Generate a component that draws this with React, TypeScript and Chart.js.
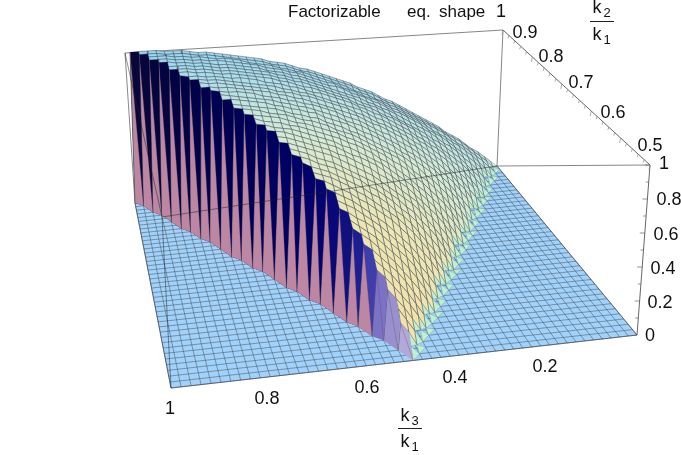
import React, { useEffect, useRef } from "react";
import Chart from "chart.js/auto";

// k3/k1 runs over 51 columns (1 at the left, 0 at the right), k2/k1 over 41 rows (1 at the back, 0.5 at the front).
const columnsK3 = 50;
const rowsK2 = 40;
// first column of each row holding a non-zero height zone
const rowFirstColumn = [0,1,2,2,3,4,4,5,5,6,7,7,8,9,9,10,10,11,12,12,13,14,14,15,15,16,17,17,18,19,19,20,20,21,22,22,23,24,24,25,25];
// surface height (percent) read along each k2 row, going up in k3 from rowFirstColumn
const surfaceHeights = [
[0,4,8,12,15,19,23,26,29,33,36,39,42,45,48,51,54,56,59,62,64,66,69,71,73,75,77,79,81,82,84,86,87,88,90,91,92,93,94,95,96,97,97,98,99,99,99,100,100,100,100],
[2,7,11,15,19,23,26,29,33,36,39,42,45,48,51,54,56,59,62,64,66,69,71,73,75,77,79,81,82,84,86,87,88,90,91,92,93,94,95,96,97,97,98,99,99,99,100,100,100],
[5,10,14,18,22,25,29,33,36,39,42,45,48,51,54,56,59,61,64,66,68,71,73,75,77,79,81,83,84,86,87,89,90,91,92,94,95,96,96,97,98,98,99,99,100,100,100],
[1,7,12,17,21,25,28,32,35,38,42,45,48,51,54,56,59,62,64,66,69,71,73,76,77,79,81,83,85,86,88,89,90,92,93,94,95,96,97,97,98,98,99,99,100,100,100],
[4,10,15,19,23,27,31,35,38,41,45,48,51,54,56,59,62,64,67,69,71,74,76,77,79,81,83,85,86,88,89,90,92,93,94,95,96,96,97,98,98,99,99,100,100],
[6,12,17,21,26,30,33,37,41,44,47,50,53,56,59,61,64,66,69,71,73,75,77,79,81,83,85,86,88,89,91,92,93,94,95,96,96,97,98,98,99,99,99],
[2,9,14,19,24,28,32,36,39,43,46,49,52,55,58,61,64,66,68,71,73,75,77,79,81,83,85,86,88,89,91,92,93,94,95,96,96,97,98,98,99,99,99],
[5,11,17,22,26,30,34,38,42,45,49,52,55,58,60,63,66,68,70,73,75,77,79,81,83,84,86,88,89,91,92,93,94,95,96,96,97,98,98,99,99],
[0,7,13,19,24,28,33,37,40,44,47,51,54,57,60,63,65,68,70,73,75,77,79,81,82,84,86,87,89,90,91,93,94,95,95,96,97,97,98,98,99],
[3,10,16,21,26,31,35,39,43,46,50,53,56,59,62,64,67,70,72,74,76,78,80,82,84,85,87,88,90,91,92,93,94,95,96,97,97,98,98],
[6,12,18,23,28,33,37,41,45,48,52,55,58,61,63,66,69,71,74,76,78,80,82,84,85,87,88,89,91,92,93,94,95,96,97,97,98],
[1,8,15,20,26,30,35,39,43,47,50,54,57,60,63,65,68,71,73,75,77,79,81,83,85,86,88,89,91,92,93,94,95,96,96,97,97],
[4,11,17,23,28,32,37,41,45,49,52,55,59,61,64,67,70,72,74,77,79,81,83,84,86,87,89,90,91,93,94,95,95,96,97],
[7,13,19,25,30,35,39,43,47,50,54,57,60,63,66,69,71,73,76,78,80,82,84,85,87,88,90,91,92,93,94,95,96],
[2,9,16,22,27,32,37,41,45,49,52,56,59,62,65,67,70,73,75,77,79,82,83,85,86,88,89,91,92,93,94,95,95],
[5,12,18,24,29,34,38,43,47,51,54,57,60,63,66,69,71,74,76,78,81,82,84,85,87,89,90,91,92,93,94],
[0,8,14,20,26,31,36,40,44,49,53,56,59,62,65,68,71,73,75,78,80,82,83,85,87,88,89,91,92,93,94],
[3,10,17,23,28,33,38,42,47,51,54,58,61,64,67,70,72,75,77,79,81,83,84,86,88,89,90,91,92],
[6,13,19,25,30,35,39,44,48,52,56,59,63,66,69,71,74,76,78,80,82,84,85,87,88,89,91],
[1,8,15,21,27,32,37,42,46,50,54,58,61,64,67,70,72,75,77,79,81,83,85,86,87,89,90],
[4,11,18,24,29,34,39,44,48,52,56,60,63,66,68,71,74,76,78,80,82,84,86,87,88],
[7,14,20,26,31,37,41,45,50,54,57,61,64,67,70,72,75,77,79,81,83,85,86],
[2,9,16,22,28,34,39,43,47,51,55,59,62,65,68,71,74,76,78,80,82,84,85],
[5,12,19,25,30,36,40,45,49,53,57,60,63,66,69,72,74,76,79,81,83],
[0,8,15,21,27,33,38,42,47,51,55,58,62,65,68,71,73,75,78,80,82],
[3,10,17,23,29,35,40,44,49,53,56,60,63,66,69,72,74,76,79],
[6,13,20,26,32,37,42,46,50,54,58,61,65,68,71,73,75],
[1,9,16,22,28,34,39,44,48,52,56,59,63,66,69,72,74],
[4,11,18,24,30,35,40,45,49,53,57,61,64,67,70],
[7,14,20,27,32,37,42,47,51,55,59,62,65],
[2,9,16,23,29,34,39,44,49,53,56,60,63],
[5,12,19,25,31,36,41,46,50,54,58],
[0,8,15,21,27,33,38,43,48,52,56],
[3,10,17,24,30,35,40,45,49],
[6,13,20,26,32,37,42],
[1,9,16,22,28,34,39],
[4,11,18,24,30],
[7,14,21],
[2,10,16],
[5],
[0],
];
// cliff colours, from the lowest column (k3 = 0.5) up to the tallest one (k3 = 1)
const cliffShades = ["#b3a9d8","#9a90cf","#7c72c5","#3f3cab","#1e1e94","#10107f","#080878","#040470","#02026a","#000066","#000062","#00005f","#00005c","#000059","#000056","#000053","#000050","#00004d","#01014a","#020247","#030344","#040441","#05053e","#06063c","#07073a"];
const surfaceStops = ["#90d6fa","#aee0ee","#d3ebd8","#eee6b4","#f4dfa8"];

const k3TickLabels = ["1","0.8","0.6","0.4","0.2"];
const k2TickLabels = ["0.9","0.8","0.7","0.6","0.5"];
const zTickLabels = ["1","0.8","0.6","0.4","0.2","0"];

// frame of the box, in page units: floor and z = 1 corners (back-left, back-right, front-right, front-left)
const floorCorners = [[135,203],[497,166],[637,335],[171,388]];
const topCorners = [[130,52],[503,30],[650,165],[161,215]];
const boxFrameCorner = [162,217];
const boxTopLeft = [125,53];
const k3AxisBow = 0.05;

type P = { x: number; y: number };

function homography(q: number[][]) {
  const [[x0,y0],[x1,y1],[x2,y2],[x3,y3]] = q;
  const dx1 = x1-x2, dx2 = x3-x2, sx = x0-x1+x2-x3;
  const dy1 = y1-y2, dy2 = y3-y2, sy = y0-y1+y2-y3;
  const den = dx1*dy2-dx2*dy1;
  const g = (sx*dy2-dx2*sy)/den, h = (dx1*sy-sx*dy1)/den;
  const a = x1-x0+g*x1, b = x3-x0+h*x3, d = y1-y0+g*y1, e = y3-y0+h*y3;
  return (u: number, v: number): P => {
    const w = g*u+h*v+1;
    return { x: (a*u+b*v+x0)/w, y: (d*u+e*v+y0)/w };
  };
}
const floorH = homography(floorCorners);
const topH = homography(topCorners);
const k3At = (i: number) => i/columnsK3;
const k2At = (n: number) => 1-n/(2*rowsK2);
function project(k3: number, k2: number, z: number): P {
  const raw = 1-k3, u = raw+k3AxisBow*raw*(1-raw), v = (1-k2)*2;
  const f = floorH(u,v), t = topH(u,v);
  return { x: f.x+(t.x-f.x)*z, y: f.y+(t.y-f.y)*z };
}
const lastColumn = (n: number) => rowFirstColumn[n]+surfaceHeights[n].length-1;
function heightAt(i: number, n: number) {
  const h = surfaceHeights[n][i-rowFirstColumn[n]];
  return h === undefined ? 0 : h/100;
}
const nodeAt = (i: number, n: number) => project(k3At(i), k2At(n), heightAt(i,n));
const hex = (s: string) => [1,3,5].map(p => parseInt(s.slice(p,p+2),16));
function surfaceColor(k3: number, k2: number) {
  const t = Math.min(0.999, Math.max(0, 1.6*(1-k2)+0.33*(1-k3)));
  const pos = t*(surfaceStops.length-1), a = Math.floor(pos), f = pos-a;
  const A = hex(surfaceStops[a]), B = hex(surfaceStops[a+1]);
  return `rgb(${A.map((v,c)=>Math.round(v+(B[c]-v)*f)).join(",")})`;
}

const FILL = (data: P[], backgroundColor: string, borderColor = "rgba(0,0,0,0)", borderWidth = 0) => ({
  data: [...data, data[0]], backgroundColor, borderColor, borderWidth, fill: "shape", showLine: true, pointRadius: 0, tension: 0, clip: false,
});
const LINE = (data: P[], borderColor: string, borderWidth: number) => ({
  data, borderColor, borderWidth, fill: false, showLine: true, pointRadius: 0, tension: 0, clip: false,
});
const pt = (c: number[]): P => ({ x: c[0], y: c[1] });

function buildDatasets() {
  const out: any[] = [];
  const frame = "#77797c", mesh = "rgba(62,66,72,0.62)";
  // box back
  out.push(LINE([pt(boxTopLeft), pt(topCorners[1]), pt(floorCorners[1])], frame, 0.9));
  out.push(LINE([pt(topCorners[1]), pt(topCorners[2]), pt(floorCorners[2])], "#555", 0.9));
  out.push(LINE([pt(floorCorners[1]), pt(topCorners[2])], frame, 0.9));
  out.push(LINE([pt(boxTopLeft), pt(floorCorners[0])], frame, 0.9));
  // axis ticks
  for (let k = 0; k <= 25; k++) {
    const a = { x: topCorners[1][0]+(topCorners[2][0]-topCorners[1][0])*k/25, y: topCorners[1][1]+(topCorners[2][1]-topCorners[1][1])*k/25 };
    out.push(LINE([a, { x: a.x-1, y: a.y+(k%5===0?5:3) }], "#888", 0.7));
  }
  for (let k = 0; k <= 10; k++) {
    const a = { x: floorCorners[2][0]+(topCorners[2][0]-floorCorners[2][0])*k/10, y: floorCorners[2][1]+(topCorners[2][1]-floorCorners[2][1])*k/10 };
    out.push(LINE([a, { x: a.x-(k%2===0?5:3), y: a.y }], "#666", 0.7));
  }
  // floor
  out.push(FILL([project(1,1,0), project(0,1,0), project(0,0.5,0), project(1,0.5,0)], "#a0d2fb", "#667", 0.8));
  for (let i = 0; i <= columnsK3; i++) out.push(LINE([project(k3At(i),1,0), project(k3At(i),0.5,0)], mesh, 0.75));
  for (let n = 0; n <= rowsK2; n++) out.push(LINE([project(0,k2At(n),0), project(1,k2At(n),0)], mesh, 0.75));
  // surface, back to front
  for (let n = 0; n < rowsK2; n++) {
    for (let i = 0; i < columnsK3; i++) {
      if (i+1 > lastColumn(n+1)) continue;
      if (i+1 < rowFirstColumn[n]) continue;
      const corners: [number,number][] = [[i,n],[i+1,n],[i+1,n+1],[i,n+1]];
      const inside = corners.map(([c,r]) => c >= rowFirstColumn[r]);
      if (inside.every(Boolean)) {
        out.push(FILL(corners.map(([c,r]) => nodeAt(c,r)), surfaceColor(k3At(i+0.5), k2At(n+0.5)), mesh, 0.75));
      } else {
        const keep = corners.filter((_,q) => inside[q] || inside[(q+1)%4] && inside.filter(Boolean).length < 3);
        const use = keep.length >= 3 ? keep : corners.slice(0,3);
        out.push(FILL(use.map(([c,r]) => nodeAt(c,r)), "#bff0d4", "rgba(90,110,100,0.5)", 0.5));
      }
    }
  }
  // cliff along k2 = k3
  const topRow = (i: number) => { let r = 0; for (let n = 0; n <= rowsK2; n++) if (lastColumn(n) >= i) r = n; return r; };
  for (let i = 25; i < columnsK3; i++) {
    const a = topRow(i), b = topRow(i+1);
    const Ta = nodeAt(i,a), Tb = nodeAt(i+1,b), Sh = nodeAt(i,b);
    const Fa = project(k3At(i),k2At(a),0), Fb = project(k3At(i+1),k2At(b),0);
    const shade = cliffShades[i-25];
    out.push(FILL([Tb, Sh, Ta, Fa, Fb], shade));
    out.push(FILL([Tb, Fa, Fb], i >= 28 ? "#bd87a3" : shade));
    out.push(LINE([Tb, Fb], "rgba(90,90,95,0.85)", 1));
    out.push(LINE([Tb, Fa], "rgba(80,70,90,0.5)", 0.6));
  }
  // box edges seen through the surface
  const see = "rgba(30,30,35,0.55)";
  out.push(LINE([pt(boxTopLeft), pt(boxFrameCorner), pt(floorCorners[3])], see, 0.9));
  out.push(LINE([pt(boxFrameCorner), pt(floorCorners[1])], see, 0.9));
  return out.reverse();
}

type Label = [string, number, number];
const k3Positions = [[170,409],[267,399],[367,388],[455,378],[545,367]];
const k2Positions = [[525,33],[551,57],[581,83],[613,113],[650,146]];
const zPositions = [[664,164],[669,200],[666,235],[663,269],[660,303],[650,336]];

const labelPlugin = {
  id: "labels3d",
  afterDraw(chart: any) {
    const { ctx, scales } = chart;
    const X = (v: number) => scales.x.getPixelForValue(v), Y = (v: number) => scales.y.getPixelForValue(v);
    const font = "Liberation Sans";
    const text = (s: string, x: number, y: number, size = 18, align: CanvasTextAlign = "center") => {
      ctx.font = `${size}px "${font}"`; ctx.textAlign = align; ctx.textBaseline = "middle"; ctx.fillStyle = "#111";
      ctx.fillText(s, X(x), Y(y));
    };
    ctx.save();
    const all: Label[] = [];
    k3TickLabels.forEach((s,i)=>all.push([s,k3Positions[i][0],k3Positions[i][1]]));
    k2TickLabels.forEach((s,i)=>all.push([s,k2Positions[i][0],k2Positions[i][1]]));
    zTickLabels.forEach((s,i)=>all.push([s,zPositions[i][0],zPositions[i][1]]));
    all.forEach(([s,x,y])=>text(s,x,y));
    text("1",501,12);
    text("Factorizable",288,12,17,"left");
    text("eq.",407,12,17,"left");
    text("shape",439,12,17,"left");
    const frac = (cx: number, yLine: number, sub: string, top: number, bottom: number) => {
      text("k",cx-5,top,18);
      text(sub,cx+5,top+5,13);
      ctx.strokeStyle="#222"; ctx.lineWidth=1; ctx.beginPath(); ctx.moveTo(X(cx-12),Y(yLine)+0.5); ctx.lineTo(X(cx+12),Y(yLine)+0.5); ctx.stroke();
      text("k",cx-5,bottom,18);
      text("1",cx+5,bottom+5,13);
    };
    frac(602,21,"2",8,35);
    frac(410,428,"3",416,442);
    ctx.restore();
  },
};

export default function App() {
  const ref = useRef<HTMLCanvasElement>(null);
  useEffect(() => {
    const chart = new Chart(ref.current!, {
      type: "scatter",
      data: { datasets: buildDatasets() },
      plugins: [labelPlugin],
      options: {
        animation: false, responsive: false, events: [], parsing: false, normalized: true,
        layout: { padding: 0 },
        plugins: { legend: { display: false }, tooltip: { enabled: false }, title: { display: false } },
        scales: {
          x: { type: "linear", min: 0, max: 681, display: false },
          y: { type: "linear", min: 0, max: 455, reverse: true, display: false },
        },
      },
    } as any);
    return () => chart.destroy();
  }, []);
  return (
    <div style={{ position: "fixed", left: 0, top: 0, width: 681, height: 455, background: "#fff" }}>
      <canvas ref={ref} width={681} height={455} style={{ display: "block" }} />
    </div>
  );
}
